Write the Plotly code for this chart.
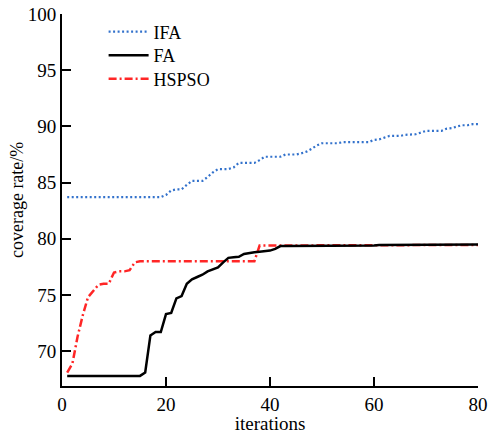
import plotly.graph_objects as go

# iteration index and coverage rate (%) of each algorithm
iterations = list(range(1, 81))

ifa = [83.7, 83.7, 83.7, 83.7, 83.7, 83.7, 83.7, 83.7, 83.7, 83.7,
       83.7, 83.7, 83.7, 83.7, 83.7, 83.7, 83.7, 83.7, 83.7, 83.9,
       84.3, 84.4, 84.4, 84.8, 85.15, 85.15, 85.15, 85.5, 85.9, 86.2,
       86.2, 86.2, 86.35, 86.75, 86.75, 86.75, 86.75, 87.0, 87.3, 87.3,
       87.3, 87.3, 87.5, 87.5, 87.5, 87.6, 87.75, 88.0, 88.3, 88.5,
       88.5, 88.5, 88.5, 88.6, 88.6, 88.6, 88.6, 88.6, 88.6, 88.8,
       88.85, 89.0, 89.15, 89.15, 89.15, 89.25, 89.25, 89.3, 89.45, 89.6,
       89.6, 89.6, 89.6, 89.8, 89.85, 90.0, 90.1, 90.1, 90.2, 90.2]

fa = [67.8, 67.8, 67.8, 67.8, 67.8, 67.8, 67.8, 67.8, 67.8, 67.8,
      67.8, 67.8, 67.8, 67.8, 67.8, 68.1, 71.4, 71.7, 71.7, 73.3,
      73.4, 74.7, 74.9, 76.0, 76.4, 76.6, 76.8, 77.1, 77.3, 77.45,
      77.9, 78.3, 78.35, 78.4, 78.65, 78.75, 78.8, 78.85, 78.9, 78.95,
      79.1, 79.35, 79.35, 79.35, 79.35, 79.35, 79.35, 79.35, 79.35, 79.35,
      79.4, 79.4, 79.4, 79.4, 79.4, 79.4, 79.4, 79.4, 79.4, 79.4,
      79.45, 79.45, 79.45, 79.45, 79.45, 79.45, 79.45, 79.45, 79.45, 79.45,
      79.5, 79.5, 79.5, 79.5, 79.5, 79.5, 79.5, 79.5, 79.5, 79.5]

hspso = [68.1, 68.9, 71.3, 73.2, 74.8, 75.4, 75.9, 76.0, 76.0, 77.0,
         77.1, 77.1, 77.2, 77.9, 78.0, 78.0, 78.0, 78.0, 78.0, 78.0,
         78.0, 78.0, 78.0, 78.0, 78.0, 78.0, 78.0, 78.0, 78.0, 78.0,
         78.0, 78.0, 78.0, 78.0, 78.0, 78.0, 78.0, 79.4, 79.4, 79.4,
         79.4, 79.4, 79.4, 79.4, 79.4, 79.4, 79.4, 79.4, 79.4, 79.4,
         79.45, 79.45, 79.45, 79.45, 79.45, 79.45, 79.45, 79.45, 79.45, 79.45,
         79.45, 79.45, 79.45, 79.45, 79.45, 79.45, 79.45, 79.45, 79.45, 79.45,
         79.45, 79.45, 79.45, 79.45, 79.45, 79.45, 79.45, 79.45, 79.45, 79.45]

x_ticks = [0, 20, 40, 60, 80]
y_ticks = [70, 75, 80, 85, 90, 95, 100]

FONT = "Liberation Serif"

fig = go.Figure()
fig.add_trace(go.Scatter(
    x=iterations, y=hspso, mode="lines", name="HSPSO", legend="legend3",
    line=dict(color="#ff2626", width=2.5, dash="8px,3px,2px,3px")))
fig.add_trace(go.Scatter(
    x=iterations, y=fa, mode="lines", name="FA", legend="legend2",
    line=dict(color="black", width=2.5)))
fig.add_trace(go.Scatter(
    x=iterations, y=ifa, mode="lines", name="IFA", legend="legend",
    line=dict(color="#3372cc", width=2.2, dash="2px,2.5px")))

axis_common = dict(
    showgrid=False, zeroline=False, showline=True, linecolor="black",
    linewidth=2, ticks="inside", ticklen=9, tickwidth=2, tickcolor="black",
    tickfont=dict(family=FONT, size=19, color="black"), automargin=False,
)


def legend_row(y):
    # one legend entry per box so the rows can sit closer together
    return dict(x=0.1, y=y, xanchor="left", yanchor="middle",
                bgcolor="rgba(0,0,0,0)", font=dict(family=FONT, size=18),
                itemwidth=40)


fig.update_layout(
    width=502, height=434,
    margin=dict(l=62, r=24, t=14, b=48, autoexpand=False),
    paper_bgcolor="white", plot_bgcolor="white",
    font=dict(family=FONT, color="black"),
    xaxis=dict(range=[0, 80], tickvals=x_ticks,
               title=dict(text="iterations", font=dict(family=FONT, size=19), standoff=12),
               **axis_common),
    yaxis=dict(range=[66.9, 100], tickvals=y_ticks, **axis_common),
    legend=legend_row(0.952),
    legend2=legend_row(0.888),
    legend3=legend_row(0.825),
    showlegend=True,
    annotations=[dict(
        text="coverage rate/%", textangle=-90, showarrow=False,
        xref="paper", yref="paper", x=-0.108, y=0.5,
        xanchor="center", yanchor="middle",
        font=dict(family=FONT, size=18, color="black"))],
)

fig.write_html("out.html")
